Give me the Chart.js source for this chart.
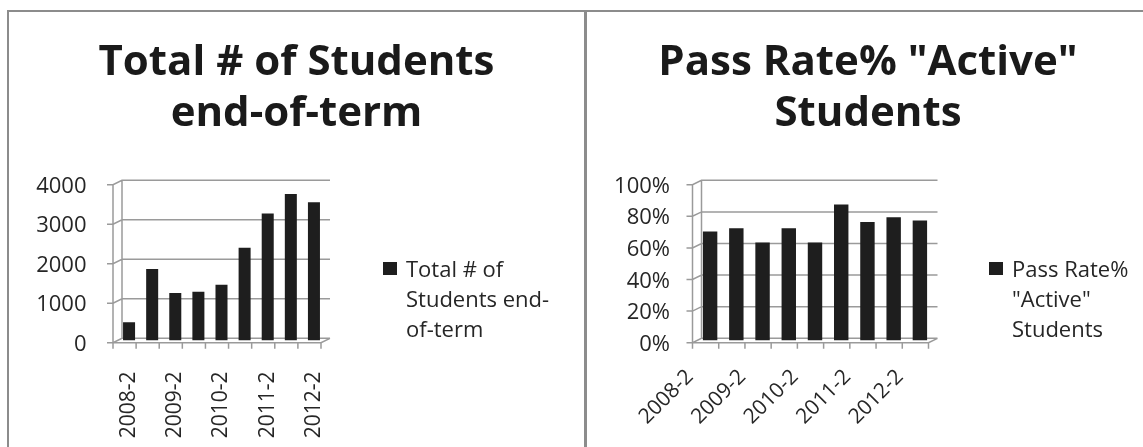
<!DOCTYPE html>
<html>
<head>
<meta charset="utf-8">
<title>Students end-of-term / Pass rate</title>
<script src="https://cdn.jsdelivr.net/npm/chart.js@4.4.1/dist/chart.umd.min.js"></script>
<style>
  html, body { margin: 0; padding: 0; background: #fff; overflow: hidden; }
  body { width: 1143px; height: 447px; position: relative; font-family: 'Open Sans', sans-serif; }
  .rule { position: absolute; background: #8c8c8c; }
  .panel { position: absolute; top: 12px; }
  .legend { position: absolute; font-size: 22px; line-height: 30px; color: #262626; white-space: nowrap; }
  .legend .box { position: absolute; left: 0; top: 9px; width: 14px; height: 13px; background: #1e1e1e; }
  .legend .text { margin-left: 23px; }
</style>
</head>
<body>
<div class="rule" style="left:7px; top:10px; width:1136px; height:2px"></div>
<div class="rule" style="left:7px; top:10px; width:2px; height:437px"></div>
<div class="rule" style="left:584px; top:10px; width:3px; height:437px"></div>

<div class="panel" style="left:9px"><canvas id="studentsChart" width="575" height="435"></canvas></div>
<div class="panel" style="left:588px"><canvas id="passChart" width="560" height="435"></canvas></div>
<div class="legend" id="studentsLegend" style="left:383px; top:253px"></div>
<div class="legend" id="passLegend" style="left:989px; top:253px"></div>

<script>
// terms (every other one gets a label on the axis)
const terms = ['2008-2', '2009-1', '2009-2', '2010-1', '2010-2', '2011-1', '2011-2', '2012-1', '2012-2'];

const studentTotals = [460, 1810, 1200, 1235, 1410, 2345, 3215, 3710, 3500];
const passRates = [69, 71, 62, 71, 62, 86, 75, 78, 76];

const studentTicks = [0, 1000, 2000, 3000, 4000];
const passTicks = [0, 20, 40, 60, 80, 100];

const studentsTitle = ['Total # of Students', 'end-of-term'];
const passTitle = ['Pass Rate% "Active"', 'Students'];
const studentsLegendLines = ['Total # of', 'Students end-', 'of-term'];
const passLegendLines = ['Pass Rate%', '"Active"', 'Students'];

const FONT = "'Open Sans', sans-serif";
const TEXT = '#262626';
const BAR = '#1e1e1e';

// depth offset of the fake 3d box (mid plane -> back wall)
const DX = 4.5, DY = 2.2;

// back wall, side wall and floor lines, drawn behind the bars
const wallPlugin = {
  id: 'walls',
  beforeDatasetsDraw(chart) {
    const { ctx, chartArea: a, scales: { x, y } } = chart;
    const y0 = y.getPixelForValue(y.min);
    const yTop = y.getPixelForValue(y.max);
    ctx.save();
    ctx.strokeStyle = '#9a9a9a';
    ctx.lineWidth = 1.5;
    ctx.beginPath();
    ctx.moveTo(a.left + DX, yTop - DY);
    ctx.lineTo(a.left + DX, y0 - DY);
    y.ticks.forEach(t => {
      const py = y.getPixelForValue(t.value);
      ctx.moveTo(a.left - DX - 6, py + DY);
      ctx.lineTo(a.left - DX, py + DY);
      ctx.lineTo(a.left + DX, py - DY);
      ctx.lineTo(a.right + DX, py - DY);
    });
    ctx.moveTo(a.left - DX, yTop + DY);
    ctx.lineTo(a.left - DX, y0 + DY);
    ctx.lineTo(a.right - DX, y0 + DY);
    ctx.lineTo(a.right + DX, y0 - DY);
    const n = x.ticks.length;
    for (let i = 0; i <= n; i++) {
      const px = a.left + (a.right - a.left) * i / n - DX;
      ctx.moveTo(px, y0 + DY);
      ctx.lineTo(px, y0 + DY + 6);
    }
    ctx.stroke();
    ctx.restore();
  }
};

function columnConfig(o) {
  return {
    type: 'bar',
    data: {
      labels: terms,
      datasets: [{
        label: o.label,
        data: o.values,
        backgroundColor: BAR,
        borderWidth: 0,
        barPercentage: o.barPct,
        categoryPercentage: 1
      }]
    },
    options: {
      responsive: false,
      animation: false,
      layout: { padding: 0 },
      plugins: {
        legend: { display: false },
        tooltip: { enabled: false },
        title: {
          display: true,
          text: o.title,
          color: '#1a1a1a',
          font: { family: FONT, weight: 'bold', size: 42, lineHeight: 1.22 },
          padding: { top: 25, bottom: 43 }
        }
      },
      scales: {
        x: {
          grid: { display: false, drawTicks: false },
          border: { display: false },
          ticks: {
            autoSkip: false,
            minRotation: o.rotation,
            maxRotation: o.rotation,
            padding: o.xPad,
            labelOffset: o.xOffset,
            color: TEXT,
            font: { family: FONT, size: 21 },
            callback: (v, i) => i % 2 ? '' : terms[i]
          },
          afterFit: s => { s.height = 106.5; }
        },
        y: {
          min: o.ticks[0],
          max: o.ticks[o.ticks.length - 1],
          grid: { display: false, drawTicks: false },
          border: { display: false },
          ticks: {
            padding: o.yPad,
            labelOffset: 4,
            color: TEXT,
            font: { family: FONT, size: 22 },
            callback: o.format
          },
          afterBuildTicks: s => { s.ticks = o.ticks.map(v => ({ value: v })); },
          afterFit: s => { s.width = o.axisWidth; }
        },
        // empty axis on the right keeps room for the legend
        side: {
          type: 'linear',
          axis: 'y',
          position: 'right',
          grid: { display: false, drawTicks: false },
          border: { display: false },
          ticks: { display: false },
          afterFit: s => { s.width = o.rightPad; }
        }
      }
    },
    plugins: [wallPlugin]
  };
}

function buildLegend(id, lines) {
  const el = document.getElementById(id);
  el.innerHTML = '<span class="box"></span><div class="text">' + lines.join('<br>') + '</div>';
}

document.addEventListener('DOMContentLoaded', () => {
  new Chart(document.getElementById('studentsChart'), columnConfig({
    label: studentsLegendLines.join(' '),
    values: studentTotals,
    title: studentsTitle,
    ticks: studentTicks,
    format: v => v,
    barPct: 0.52,
    rotation: 90,
    xPad: 31,
    xOffset: 0,
    yPad: 31,
    axisWidth: 108.5,
    rightPad: 258.5
  }));

  new Chart(document.getElementById('passChart'), columnConfig({
    label: passLegendLines.join(' '),
    values: passRates,
    title: passTitle,
    ticks: passTicks,
    format: v => v + '%',
    barPct: 0.55,
    rotation: 45,
    xPad: 24,
    xOffset: -20,
    yPad: 27,
    axisWidth: 109,
    rightPad: 215
  }));

  buildLegend('studentsLegend', studentsLegendLines);
  buildLegend('passLegend', passLegendLines);
});
</script>
</body>
</html>
